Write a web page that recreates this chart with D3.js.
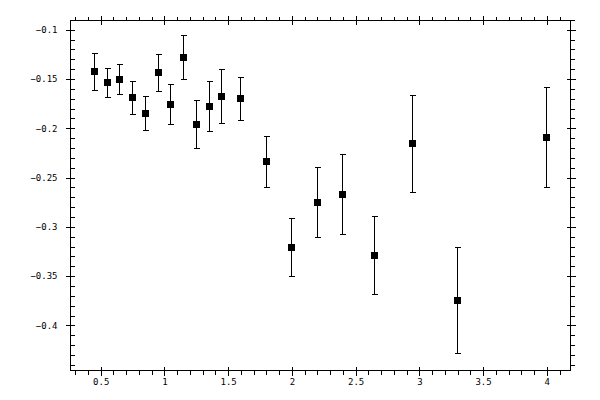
<!DOCTYPE html>
<html>
<head>
<meta charset="utf-8">
<script src="https://cdn.jsdelivr.net/npm/d3@7"></script>
<style>
  body { margin: 0; background: #fff; }
  text { font-family: "DejaVu Sans Mono", monospace; font-size: 9px; fill: #000; }
</style>
</head>
<body>
<svg id="chart" width="600" height="400"></svg>
<script>
// data
const xValues = [0.45, 0.55, 0.65, 0.75, 0.85, 0.95, 1.05, 1.15, 1.25, 1.35, 1.45, 1.6, 1.8, 2.0, 2.2, 2.4, 2.65, 2.95, 3.3, 4.0];
const yValues = [-0.1426, -0.1537, -0.1507, -0.1689, -0.1851, -0.1436, -0.176, -0.1284, -0.1963, -0.178, -0.1679, -0.1699, -0.2338, -0.3209, -0.2752, -0.2672, -0.329, -0.2155, -0.3747, -0.2095];
const yErrors = [0.0188, 0.0147, 0.0152, 0.0167, 0.0176, 0.0187, 0.0203, 0.0224, 0.0242, 0.0253, 0.0277, 0.0218, 0.0258, 0.0294, 0.0355, 0.0403, 0.0397, 0.0492, 0.0537, 0.0507];

const xMajorTicks = [0.5, 1, 1.5, 2, 2.5, 3, 3.5, 4];
const yMajorTicks = [-0.1, -0.15, -0.2, -0.25, -0.3, -0.35, -0.4];

const data = xValues.map((x, i) => ({ x: x, y: yValues[i], err: yErrors[i] }));

const svg = d3.select('#chart');
const plotLeft = 70, plotRight = 570, plotTop = 20, plotBottom = 370;

const x = d3.scaleLinear().domain([0.2633, 4.186]).range([plotLeft, plotRight]);
const y = d3.scaleLinear().domain([-0.4458, -0.0906]).range([plotBottom, plotTop]);

// minor ticks every 0.1 / 0.01, skipping the majors
const xMinor = d3.range(3, 42).map((d) => d / 10)
  .filter((d) => !xMajorTicks.some((m) => Math.abs(m - d) < 1e-6));
const yMinor = d3.range(-44, -8).map((d) => d / 100)
  .filter((d) => !yMajorTicks.some((m) => Math.abs(m - d) < 1e-6));

const g = svg.append('g').attr('shape-rendering', 'crispEdges');

// frame
g.append('rect')
  .attr('x', plotLeft + 0.5)
  .attr('y', plotTop + 0.5)
  .attr('width', plotRight - plotLeft)
  .attr('height', plotBottom - plotTop)
  .attr('fill', 'none')
  .attr('stroke', '#000');

function drawAxis(axis, transform) {
  const grp = g.append('g').attr('transform', transform).call(axis);
  grp.select('.domain').remove();
  grp.selectAll('line').attr('stroke', '#000');
  return grp;
}

// major ticks cross the frame line
const xBottom = drawAxis(
  d3.axisBottom(x).tickValues(xMajorTicks).tickSize(9).tickSizeOuter(0).tickFormat(d3.format('')),
  `translate(0.5, ${plotBottom - 3.5})`
);
xBottom.selectAll('text').attr('dy', 0).attr('y', 18).attr('font-family', null).attr('font-size', null);

drawAxis(
  d3.axisTop(x).tickValues(xMajorTicks).tickSize(9).tickSizeOuter(0).tickFormat(''),
  `translate(0.5, ${plotTop + 4.5})`
);

const yLeft = drawAxis(
  d3.axisLeft(y).tickValues(yMajorTicks).tickSize(9).tickSizeOuter(0).tickFormat(d3.format('')),
  `translate(${plotLeft + 4.5}, 0.5)`
);
yLeft.selectAll('text').attr('x', -17).attr('font-family', null).attr('font-size', null);

drawAxis(
  d3.axisRight(y).tickValues(yMajorTicks).tickSize(9).tickSizeOuter(0).tickFormat(''),
  `translate(${plotRight - 3.5}, 0.5)`
);

// minor ticks: x ones point outward, y ones point right on both sides
drawAxis(d3.axisBottom(x).tickValues(xMinor).tickSize(4).tickSizeOuter(0).tickFormat(''),
  `translate(0.5, ${plotBottom + 0.5})`);
drawAxis(d3.axisTop(x).tickValues(xMinor).tickSize(4).tickSizeOuter(0).tickFormat(''),
  `translate(0.5, ${plotTop + 0.5})`);
drawAxis(d3.axisRight(y).tickValues(yMinor).tickSize(4).tickSizeOuter(0).tickFormat(''),
  `translate(${plotLeft + 0.5}, 0.5)`);
drawAxis(d3.axisRight(y).tickValues(yMinor).tickSize(4).tickSizeOuter(0).tickFormat(''),
  `translate(${plotRight + 0.5}, 0.5)`);

// error bars
const bars = g.append('g').attr('stroke', '#000').attr('stroke-width', 1);
const px = (d) => Math.round(x(d.x)) + 0.5;
const py = (v) => Math.round(y(v)) + 0.5;

bars.selectAll('line.stem')
  .data(data)
  .enter()
  .append('line')
  .attr('class', 'stem')
  .attr('x1', px).attr('x2', px)
  .attr('y1', (d) => py(d.y + d.err))
  .attr('y2', (d) => py(d.y - d.err));

[1, -1].forEach((sign) => {
  bars.selectAll(sign > 0 ? 'line.captop' : 'line.capbot')
    .data(data)
    .enter()
    .append('line')
    .attr('class', sign > 0 ? 'captop' : 'capbot')
    .attr('x1', (d) => px(d) - 3).attr('x2', (d) => px(d) + 3)
    .attr('y1', (d) => py(d.y + sign * d.err))
    .attr('y2', (d) => py(d.y + sign * d.err));
});

// square markers
g.append('g')
  .selectAll('rect')
  .data(data)
  .enter()
  .append('rect')
  .attr('x', (d) => Math.round(x(d.x)) - 3)
  .attr('y', (d) => Math.round(y(d.y)) - 3)
  .attr('width', 7)
  .attr('height', 7)
  .attr('fill', '#000');
</script>
</body>
</html>
